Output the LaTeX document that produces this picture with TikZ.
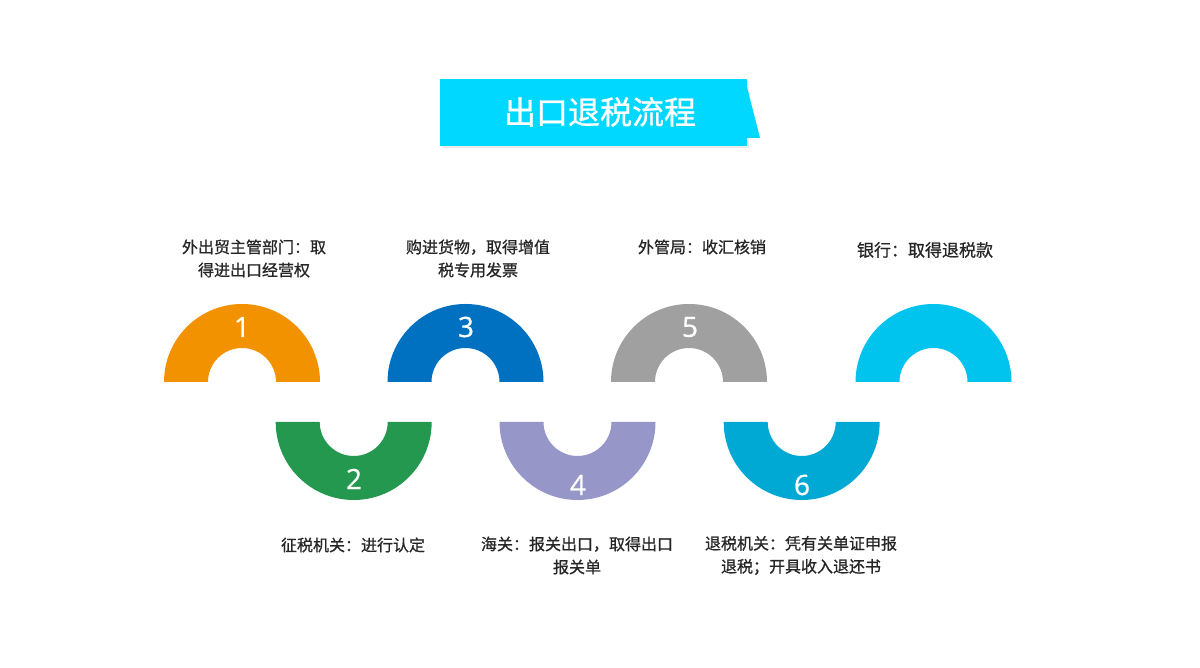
\documentclass[tikz,border=0pt]{standalone}
\usepackage{fontspec}
\newfontfamily\cjk{Noto Sans CJK SC}
\newfontfamily\cjkm[FakeBold=0.8]{Noto Sans CJK SC}
\newfontfamily\numfont[FakeBold=0.8]{Open Sans}
\definecolor{cOrange}{HTML}{F39200}
\definecolor{cBlue}{HTML}{0070C0}
\definecolor{cGray}{HTML}{A0A0A0}
\definecolor{cCyan}{HTML}{00C4EE}
\definecolor{cGreen}{HTML}{24984F}
\definecolor{cPurple}{HTML}{9696C8}
\definecolor{cTeal}{HTML}{00A8D4}
\definecolor{cTitle}{HTML}{00D8FF}
\definecolor{cText}{HTML}{262626}
\tikzset{
  numlabel/.style={text=white,font=\numfont\fontsize{28}{30}\selectfont,inner sep=0pt},
  steplabel/.style={text=cText,font=\cjkm\fontsize{16}{23}\selectfont,align=center,inner sep=0pt},
}
\begin{document}
\begin{tikzpicture}[x=1pt,y=1pt]
\useasboundingbox[fill=white] (0,0) rectangle (1200,668);
% title banner
\fill[black!8] (442,520) rectangle (749,587);
\fill[cTitle] (440,522) rectangle (747,589);
\fill[cTitle] (745,589) -- (760,530) -- (745,530) -- cycle;
\node[text=white,font=\cjkm\fontsize{32}{34}\selectfont,inner sep=0pt] (title) at (600,556) {出口退税流程};
% top arcs
\foreach \cx/\col in {242/cOrange,465.5/cBlue,689/cGray,933.5/cCyan}{
  \fill[\col] (\cx-78,286) arc[start angle=180,end angle=0,radius=78] -- (\cx+34,286) arc[start angle=0,end angle=180,radius=34] -- cycle;
}
% bottom arcs
\foreach \cx/\col in {353.7/cGreen,577.5/cPurple,801.7/cTeal}{
  \fill[\col] (\cx-78,246) arc[start angle=180,end angle=360,radius=78] -- (\cx+34,246) arc[start angle=360,end angle=180,radius=34] -- cycle;
}
% numbers
\node[numlabel] (n1) at (242,341) {1};
\node[numlabel] (n3) at (466,341) {3};
\node[numlabel] (n5) at (690,341) {5};
\node[numlabel] (n2) at (354,189) {2};
\node[numlabel] (n4) at (578,183) {4};
\node[numlabel] (n6) at (802,183) {6};
% labels
\node[steplabel] (l1) at (254,409.5) {外出贸主管部门：取\\得进出口经营权};
\node[steplabel] (l3) at (478,409.5) {购进货物，取得增值\\税专用发票};
\node[steplabel] (l5) at (702,421) {外管局：收汇核销};
\node[steplabel,font=\cjkm\fontsize{17}{23}\selectfont] (l7) at (925,418) {银行：取得退税款};
\node[steplabel] (l2) at (353,123) {征税机关：进行认定};
\node[steplabel] (l4) at (577,112.5) {海关：报关出口，取得出口\\报关单};
\node[steplabel] (l6) at (801,112.5) {退税机关：凭有关单证申报\\退税；开具收入退还书};
\end{tikzpicture}
\end{document}
